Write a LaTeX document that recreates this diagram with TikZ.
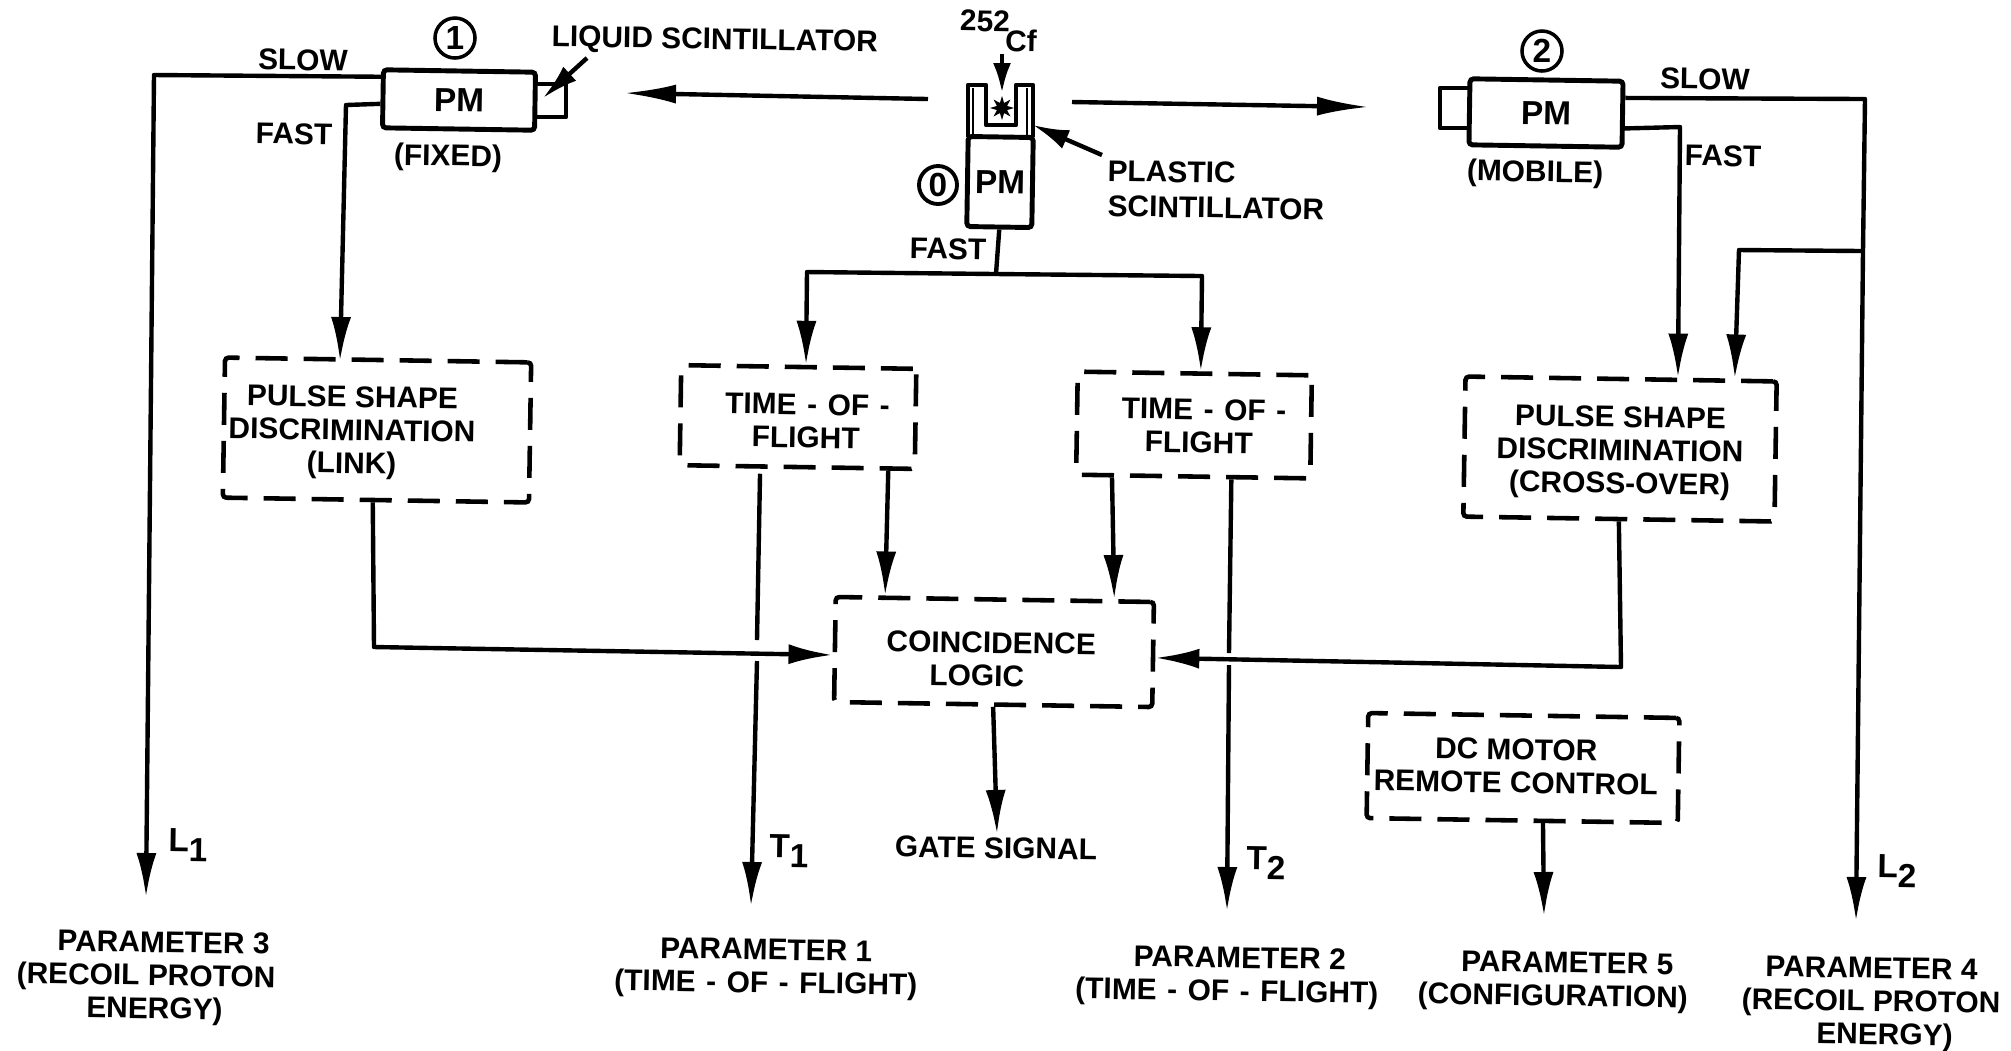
\documentclass[tikz,border=0pt]{standalone}
\usepackage{fontspec}
\setmainfont{Liberation Sans}
\usetikzlibrary{arrows.meta,calc,shapes.geometric}

\newcommand{\subidx}[1]{\raisebox{-.55ex}{#1}}
\newcommand{\wdhy}{\kern3pt-\kern3pt}

\tikzset{
	lbl/.style={font=\fontsize{8.5}{9.4}\selectfont\bfseries, inner sep=0pt, align=center, rotate=-0.9},
	bigsym/.style={lbl, font=\fontsize{9.5}{11}\selectfont\bfseries},
	dashbox/.style={draw, line width=1.3pt, dash pattern=on 0.32cm off 0.16cm, rounded corners=1pt, inner sep=0pt, rotate=-0.9},
	pmbox/.style={draw, line width=1.4pt, rounded corners=1pt, inner sep=0pt, align=center, font=\fontsize{9.5}{11}\selectfont\bfseries, rotate=-0.9},
	numring/.style={draw, circle, line width=1pt, inner sep=0pt, minimum size=0.4cm, font=\fontsize{9.5}{11}\selectfont\bfseries},
	wire/.style={line width=1.25pt, line join=round},
	sig/.style={wire, -{Latex[length=4.4mm,width=2mm]}},
	ray/.style={wire, -{Latex[length=5.2mm,width=1.9mm]}}
}

\begin{document}
\begin{tikzpicture}[x=0.01cm, y=-0.01cm]
	\useasboundingbox (0, 0) rectangle (2011, 1050);

	% the three photomultipliers
	\node (pma) [pmbox, minimum width=1.52cm, minimum height=0.58cm] at (459, 100) {PM};
	\node (pmz) [pmbox, minimum width=0.65cm, minimum height=0.90cm] at (1000, 182) {PM};
	\node (pmb) [pmbox, minimum width=1.53cm, minimum height=0.66cm] at (1546, 113) {PM};

	\node (ringa) [numring] at (455, 38) {1};
	\node (ringz) [numring, line width=1.1pt, minimum size=0.38cm] at (938, 185) {0};
	\node (ringb) [numring] at (1542, 51) {2};

	% scintillators on the tubes
	\draw [wire] (535, 84) -- (566, 84) -- (566, 117) -- (535, 117);
	\draw [wire] (1470, 88) -- (1440, 88) -- (1440, 128) -- (1470, 128);
	\draw [wire] (968, 137) -- (968, 85) -- (986, 85) -- (986, 125) -- (1016, 125) -- (1016, 85) -- (1033, 85) -- (1033, 137);
	\draw [line width=0.8pt] (973, 88) -- (973, 137);
	\draw [line width=0.8pt] (1027, 88) -- (1027, 137);
	\node (source) [star, star points=8, star point ratio=2.2, fill, inner sep=0pt, minimum size=0.24cm] at (1002, 108) {};

	% source and scintillator labels
	\node (cfmass) [lbl] at (985, 21) {252};
	\node (cfname) [lbl] at (1021, 41) {Cf};
	\node (liquid) [lbl, anchor=west] at (551, 39) {LIQUID SCINTILLATOR};
	\node (plastic) [lbl, anchor=west] at (1107, 171) {PLASTIC};
	\node (plasticb) [lbl, anchor=west] at (1107, 206) {SCINTILLATOR};
	\node (fixed) [lbl] at (448, 158) {(FIXED)};
	\node (mobile) [lbl] at (1535, 174) {(MOBILE)};

	\coordinate (cftop) at (1002, 54);
	\coordinate (cfend) at (1002, 93);
	\draw [wire, -{Latex[length=3mm,width=1.8mm]}] (cftop) -- (cfend);
	\coordinate (liquidtail) at (587, 58);
	\coordinate (liquidhead) at (543, 98);
	\draw [wire, -{Latex[length=3.6mm,width=1.9mm]}] (liquidtail) -- (liquidhead);
	\coordinate (plastictail) at (1102, 155);
	\coordinate (plastichead) at (1033, 125);
	\draw [wire, -{Latex[length=3.6mm,width=2mm]}] (plastictail) -- (plastichead);

	% particle paths away from the source
	\coordinate (pathla) at (928, 99);
	\coordinate (pathlb) at (624, 93);
	\draw [ray] (pathla) -- (pathlb);
	\coordinate (pathra) at (1072, 102);
	\coordinate (pathrb) at (1369, 107);
	\draw [ray] (pathra) -- (pathrb);

	% electronics blocks
	\node (psda) [dashbox, minimum width=3.06cm, minimum height=1.40cm] at (377, 430) {};
	\node (tofa) [dashbox, minimum width=2.35cm, minimum height=1.00cm] at (798, 417) {};
	\node (tofb) [dashbox, minimum width=2.34cm, minimum height=1.03cm] at (1194, 425) {};
	\node (psdb) [dashbox, minimum width=3.11cm, minimum height=1.40cm] at (1620, 449) {};
	\node (coin) [dashbox, minimum width=3.18cm, minimum height=1.05cm] at (994, 652) {};
	\node (motor) [dashbox, minimum width=3.11cm, minimum height=1.05cm] at (1523, 768) {};

	\node (psdatext) [lbl] at (352, 433) {PULSE SHAPE\\DISCRIMINATION\\(LINK)};
	\node (tofatext) [lbl] at (806, 421) {\hspace*{0.13cm}TIME\wdhy OF\wdhy\\FLIGHT};
	\node (tofbtext) [lbl] at (1199, 426) {\hspace*{0.2cm}TIME\wdhy OF\wdhy\\FLIGHT};
	\node (psdbtext) [lbl] at (1620, 453) {PULSE SHAPE\\DISCRIMINATION\\(CROSS-OVER)};
	\node (cointext) [lbl] at (977, 659) {\hspace*{0.28cm}COINCIDENCE\\LOGIC};
	\node (motortext) [lbl] at (1516, 766) {DC MOTOR\\REMOTE CONTROL};

	% tube outputs
	\node (slowa) [lbl] at (303, 60) {SLOW};
	\node (fasta) [lbl] at (294, 134) {FAST};
	\node (fastz) [lbl] at (948, 249) {FAST};
	\node (slowb) [lbl] at (1705, 79) {SLOW};
	\node (fastb) [lbl] at (1723, 156) {FAST};

	\coordinate (slowabend) at (154, 75);
	\coordinate (slowaend) at (146, 897);
	\draw [sig] ($(pma.north west)!.15!(pma.south west)$) -- (slowabend) -- (slowaend);
	\coordinate (fastabend) at (346, 105);
	\coordinate (fastaend) at (340, 361);
	\draw [sig] ($(pma.north west)!.58!(pma.south west)$) -- (fastabend) -- (fastaend);

	% start signal goes to both time-of-flight blocks
	\coordinate (fork) at (996, 274);
	\coordinate (forkl) at (807, 272);
	\coordinate (forkr) at (1202, 276);
	\draw [wire] (pmz.south) -- (fork);
	\draw [sig] (fork) -- (forkr) -- ($(tofb.north west)!.525!(tofb.north east)$);
	\draw [sig] (fork) -- (forkl) -- ($(tofa.north west)!.53!(tofa.north east)$);

	\coordinate (slowbbend) at (1865, 99);
	\coordinate (slowbtap) at (1863, 251);
	\coordinate (slowbend) at (1856, 921);
	\draw [sig] ($(pmb.north east)!.27!(pmb.south east)$) -- (slowbbend) -- (slowbtap) -- (slowbend);
	\coordinate (tapbend) at (1739, 250);
	\coordinate (tapend) at ($(psdb.north west)!.86!(psdb.north east)$);
	\draw [sig] (slowbtap) -- (tapbend) -- (tapend);
	\coordinate (fastbbend) at (1680, 127);
	\coordinate (fastbend) at ($(psdb.north west)!.68!(psdb.north east)$);
	\draw [sig] ($(pmb.north east)!.7!(pmb.south east)$) -- (fastbbend) -- (fastbend);

	% signals into the coincidence
	\coordinate (psdabend) at (374, 647);
	\draw [sig] ($(psda.south west)!.49!(psda.south east)$) -- (psdabend) -- ($(coin.north west)!.55!(coin.south west)$);
	\coordinate (psdbbend) at (1621, 667);
	\draw [sig] ($(psdb.south west)!.5!(psdb.south east)$) -- (psdbbend) -- ($(coin.north east)!.53!(coin.south east)$);
	\draw [sig] ($(tofa.south west)!.88!(tofa.south east)$) -- ($(coin.north west)!.16!(coin.north east)$);
	\draw [sig] ($(tofb.south west)!.16!(tofb.south east)$) -- ($(coin.north west)!.87!(coin.north east)$);

	% parameter lines, broken where they pass the coincidence inputs
	\coordinate (tagap) at (757, 640);
	\coordinate (tagapb) at (757, 661);
	\coordinate (taend) at (751, 906);
	\draw [wire] ($(tofa.south west)!.345!(tofa.south east)$) ++(0, 5) -- (tagap);
	\draw [sig] (tagapb) -- (taend);
	\coordinate (tbgap) at (1229, 653);
	\coordinate (tbgapb) at (1229, 665);
	\coordinate (tbend) at (1227, 911);
	\draw [wire] ($(tofb.south west)!.66!(tofb.south east)$) -- (tbgap);
	\draw [sig] (tbgapb) -- (tbend);

	\coordinate (gateend) at (997, 834);
	\draw [sig] (coin.south) -- (gateend);
	\coordinate (motorend) at (1544, 916);
	\draw [sig] ($(motor.south west)!.566!(motor.south east)$) -- (motorend);

	% outputs
	\node (gate) [lbl] at (996, 848) {GATE SIGNAL};
	\node (lena) [bigsym] at (188, 845) {L\subidx{1}};
	\node (lenb) [bigsym] at (1897, 871) {L\subidx{2}};
	\node (tima) [bigsym] at (789, 851) {T\subidx{1}};
	\node (timb) [bigsym] at (1266, 863) {T\subidx{2}};

	\node (parc) [lbl] at (146, 978) {\hspace*{0.34cm}PARAMETER 3\\(RECOIL PROTON\\\hspace*{0.18cm}ENERGY)};
	\node (para) [lbl] at (766, 969) {PARAMETER 1\\(TIME\wdhy OF\wdhy FLIGHT)};
	\node (parb) [lbl] at (1227, 977) {\hspace*{0.25cm}PARAMETER 2\\(TIME\wdhy OF\wdhy FLIGHT)};
	\node (pare) [lbl] at (1553, 982) {\hspace*{0.28cm}PARAMETER 5\\(CONFIGURATION)};
	\node (pard) [lbl] at (1871, 1004) {PARAMETER 4\\(RECOIL PROTON\\\hspace*{0.28cm}ENERGY)};
\end{tikzpicture}
\end{document}
